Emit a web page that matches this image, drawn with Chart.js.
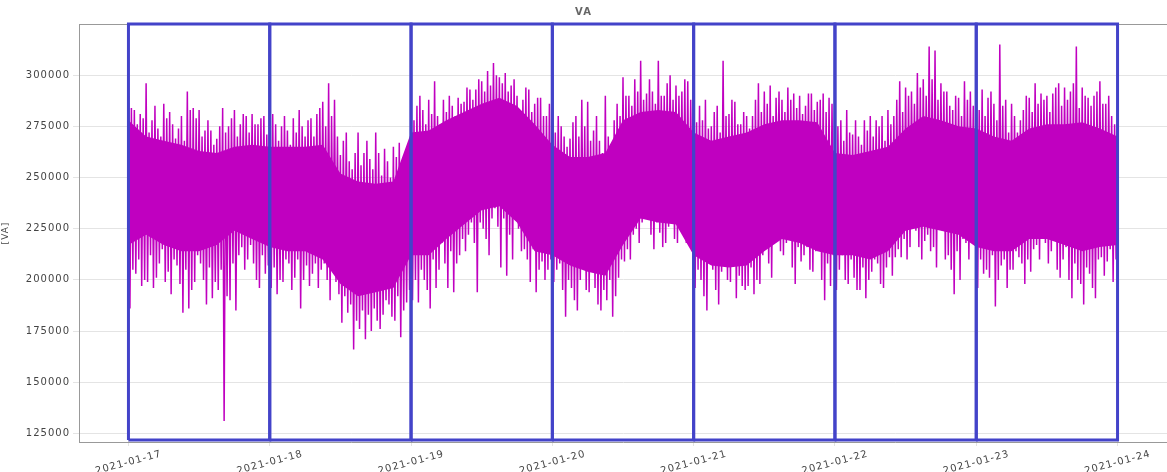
<!DOCTYPE html>
<html>
<head>
<meta charset="utf-8">
<script src="https://cdn.jsdelivr.net/npm/chart.js@4.4.1/dist/chart.umd.min.js"></script>
<style>
    html, body { margin: 0; padding: 0; background: #fff; overflow: hidden; }
</style>
</head>
<body>
<canvas id="myChart" width="1167" height="472"></canvas>
<script>
// day boundaries (x axis ticks)
var days = ['2021-01-17', '2021-01-18', '2021-01-19', '2021-01-20', '2021-01-21', '2021-01-22', '2021-01-23', '2021-01-24'];
var yTicks = [125000, 150000, 175000, 200000, 225000, 250000, 275000, 300000];

// hourly main upper / lower peaks of the VA trace, one pair of arrays per day
var hi17 = [290000, 283000, 281000, 296000, 278000, 274000, 286000, 282000, 269000, 280000, 292000, 284000, 283000, 273000, 273000, 269000, 284000, 275000, 283000, 276000, 280000, 281000, 276000, 280000];
var lo17 = [186000, 203000, 197000, 199000, 196000, 208000, 199000, 193000, 207000, 184000, 186000, 199000, 208000, 188000, 191000, 195000, 131000, 190000, 185000, 216000, 210000, 208000, 196000, 203000];
var hi18 = [273000, 276000, 275000, 273000, 279000, 283000, 270000, 279000, 281000, 287000, 296000, 288000, 261000, 272000, 254000, 272000, 262000, 259000, 272000, 251000, 258000, 265000, 267000, 258000];
var lo18 = [196000, 193000, 199000, 208000, 201000, 186000, 207000, 203000, 196000, 208000, 190000, 199000, 179000, 184000, 166000, 176000, 171000, 175000, 180000, 183000, 188000, 180000, 172000, 189000];
var hi19 = [285000, 285000, 283000, 288000, 297000, 276000, 282000, 285000, 289000, 287000, 293000, 293000, 297000, 302000, 306000, 299000, 301000, 295000, 290000, 288000, 293000, 286000, 289000, 280000];
var lo19 = [190000, 189000, 200000, 186000, 196000, 218000, 196000, 194000, 212000, 214000, 228000, 194000, 225000, 212000, 235000, 206000, 202000, 210000, 225000, 215000, 199000, 194000, 209000, 205000];
var hi20 = [281000, 280000, 270000, 269000, 280000, 288000, 287000, 273000, 268000, 290000, 266000, 286000, 299000, 290000, 298000, 307000, 291000, 292000, 307000, 290000, 300000, 295000, 292000, 297000];
var lo20 = [199000, 208000, 182000, 196000, 185000, 209000, 194000, 196000, 185000, 190000, 182000, 201000, 209000, 210000, 225000, 228000, 231000, 215000, 223000, 218000, 228000, 218000, 225000, 218000];
var hi21 = [283000, 285000, 288000, 275000, 285000, 307000, 281000, 287000, 276000, 280000, 280000, 296000, 292000, 295000, 289000, 288000, 294000, 291000, 290000, 285000, 291000, 287000, 291000, 289000];
var lo21 = [196000, 200000, 185000, 205000, 188000, 214000, 199000, 191000, 197000, 197000, 193000, 198000, 218000, 201000, 240000, 212000, 222000, 198000, 209000, 216000, 204000, 220000, 190000, 197000];
var hi22 = [268000, 278000, 283000, 271000, 270000, 278000, 280000, 278000, 280000, 283000, 280000, 297000, 294000, 292000, 301000, 298000, 314000, 312000, 296000, 292000, 283000, 289000, 297000, 292000];
var lo22 = [195000, 212000, 198000, 201000, 195000, 191000, 204000, 208000, 196000, 211000, 211000, 211000, 210000, 231000, 216000, 219000, 214000, 206000, 224000, 212000, 193000, 200000, 218000, 226000];
var hi23 = [294000, 293000, 289000, 286000, 315000, 288000, 286000, 272000, 283000, 289000, 296000, 291000, 290000, 291000, 296000, 294000, 292000, 314000, 294000, 289000, 290000, 297000, 286000, 280000];
var lo23 = [196000, 203000, 201000, 187000, 207000, 196000, 205000, 211000, 198000, 204000, 217000, 224000, 208000, 221000, 201000, 216000, 191000, 200000, 188000, 203000, 191000, 211000, 209000, 199000];

// hourly secondary upper / lower peaks (the shorter spikes between the main ones)
var hi2_17 = [284000, 276000, 279000, 272000, 285000, 270000, 279000, 276000, 274000, 268000, 283000, 279000, 270000, 278000, 266000, 275000, 272000, 279000, 270000, 281000, 272000, 276000, 279000, 271000];
var lo2_17 = [205000, 210000, 200000, 212000, 201000, 215000, 204000, 210000, 198000, 205000, 195000, 212000, 200000, 206000, 199000, 205000, 192000, 208000, 212000, 205000, 217000, 200000, 212000, 207000];
var hi2_18 = [281000, 268000, 280000, 266000, 272000, 275000, 278000, 270000, 284000, 275000, 280000, 270000, 268000, 258000, 262000, 256000, 268000, 254000, 262000, 264000, 250000, 260000, 256000, 262000];
var lo2_18 = [206000, 200000, 210000, 195000, 210000, 200000, 197000, 208000, 205000, 200000, 206000, 193000, 192000, 188000, 180000, 185000, 183000, 186000, 176000, 190000, 182000, 192000, 185000, 195000];
var hi2_19 = [278000, 290000, 276000, 281000, 280000, 288000, 290000, 280000, 286000, 294000, 288000, 298000, 292000, 295000, 300000, 296000, 292000, 298000, 283000, 294000, 282000, 289000, 280000, 286000];
var lo2_19 = [200000, 205000, 195000, 210000, 205000, 208000, 214000, 208000, 220000, 222000, 218000, 228000, 220000, 230000, 226000, 230000, 222000, 230000, 214000, 210000, 215000, 205000, 200000, 210000];
var hi2_20 = [272000, 275000, 265000, 277000, 270000, 275000, 268000, 280000, 262000, 270000, 278000, 280000, 290000, 285000, 292000, 288000, 298000, 286000, 290000, 296000, 288000, 290000, 298000, 288000];
var lo2_20 = [205000, 195000, 200000, 190000, 200000, 195000, 205000, 188000, 195000, 200000, 192000, 210000, 215000, 222000, 218000, 232000, 222000, 228000, 216000, 226000, 220000, 230000, 218000, 222000];
var hi2_21 = [277000, 278000, 274000, 282000, 272000, 280000, 288000, 276000, 282000, 274000, 288000, 282000, 286000, 280000, 292000, 282000, 288000, 284000, 281000, 291000, 283000, 288000, 282000, 286000];
var lo2_21 = [205000, 192000, 210000, 195000, 204000, 200000, 208000, 202000, 195000, 206000, 200000, 212000, 208000, 222000, 214000, 218000, 206000, 216000, 212000, 205000, 214000, 200000, 208000, 212000];
var hi2_22 = [275000, 268000, 272000, 278000, 266000, 273000, 270000, 275000, 268000, 276000, 288000, 282000, 290000, 286000, 294000, 290000, 298000, 288000, 292000, 285000, 290000, 280000, 288000, 285000];
var lo2_22 = [205000, 200000, 210000, 195000, 206000, 200000, 210000, 198000, 206000, 202000, 215000, 220000, 216000, 224000, 210000, 222000, 216000, 226000, 210000, 205000, 214000, 220000, 210000, 218000];
var hi2_23 = [283000, 280000, 292000, 278000, 285000, 272000, 280000, 278000, 290000, 282000, 286000, 288000, 282000, 294000, 285000, 288000, 296000, 284000, 290000, 285000, 292000, 286000, 290000, 276000];
var lo2_23 = [210000, 205000, 212000, 200000, 210000, 205000, 214000, 208000, 210000, 215000, 210000, 218000, 214000, 205000, 210000, 200000, 208000, 198000, 206000, 196000, 210000, 202000, 215000, 210000];

// dense core of the trace (where the line fills solid), every 3 hours 17th 00:00 .. 24th 00:00
var coreTop = [
    278000, 270000, 268000, 266000, 263000, 262000, 265000, 266000,
    265000, 265000, 265000, 266000, 252000, 248000, 247000, 248000,
    272000, 273000, 278000, 282000, 286000, 289000, 285000, 276000,
    266000, 260000, 260000, 262000, 278000, 282000, 283000, 282000,
    272000, 268000, 270000, 272000, 276000, 278000, 278000, 277000,
    262000, 261000, 263000, 265000, 274000, 280000, 278000, 275000,
    274000, 270000, 268000, 274000, 276000, 276000, 277000, 274000,
    270000
];
var coreBot = [
    217000, 222000, 217000, 214000, 214000, 217000, 224000, 220000,
    216000, 214000, 214000, 210000, 198000, 192000, 194000, 196000,
    212000, 212000, 220000, 227000, 234000, 236000, 228000, 214000,
    212000, 207000, 204000, 202000, 217000, 230000, 228000, 227000,
    212000, 207000, 206000, 207000, 214000, 220000, 218000, 214000,
    212000, 212000, 210000, 214000, 224000, 226000, 224000, 222000,
    216000, 214000, 214000, 220000, 220000, 217000, 214000, 216000,
    217000
];

var HI = [hi17, hi18, hi19, hi20, hi21, hi22, hi23];
var LO = [lo17, lo18, lo19, lo20, lo21, lo22, lo23];
var HI2 = [hi2_17, hi2_18, hi2_19, hi2_20, hi2_21, hi2_22, hi2_23];
var LO2 = [lo2_17, lo2_18, lo2_19, lo2_20, lo2_21, lo2_22, lo2_23];

var Y_MIN = 120800, Y_MAX = 325000;
var X_MIN = -8.4, X_MAX = 176.4;   // hours from 2021-01-17 00:00
var MAGENTA = '#c000c0';

// x in hours: main peak, main dip, secondary peak, secondary dip every quarter hour
var trace = [];
for (var d = 0; d < HI.length; d++) {
    for (var h = 0; h < 24; h++) {
        var t = d * 24 + h;
        trace.push({ x: t, y: HI[d][h] });
        trace.push({ x: t + 0.25, y: LO[d][h] });
        trace.push({ x: t + 0.5, y: HI2[d][h] });
        trace.push({ x: t + 0.75, y: LO2[d][h] });
    }
}
var topPts = coreTop.map(function (v, k) { return { x: k * 3, y: v }; });
var botPts = coreBot.map(function (v, k) { return { x: k * 3, y: v }; });

var datasets = [{
    data: trace,
    borderColor: MAGENTA,
    borderWidth: 1.5,
    pointRadius: 0,
    tension: 0,
    order: 2
}, {
    data: topPts,
    borderWidth: 0,
    backgroundColor: MAGENTA,
    fill: '+1',
    pointRadius: 0,
    order: 3
}, {
    data: botPts,
    borderWidth: 0,
    pointRadius: 0,
    fill: false,
    order: 3
}];

// one box per day
for (var i = 0; i < days.length - 1; i++) {
    var x0 = i * 24, x1 = (i + 1) * 24;
    var yb = Y_MIN + 1000;
    datasets.push({
        data: [{x: x0, y: yb}, {x: x0, y: Y_MAX}, {x: x1, y: Y_MAX}, {x: x1, y: yb}, {x: x0, y: yb}],
        borderColor: '#4343c9',
        borderWidth: 3,
        pointRadius: 0,
        tension: 0,
        clip: 4,
        order: 1
    });
}

var spacing = {
    id: 'spacing',
    beforeLayout: function (chart) { chart.ctx.letterSpacing = '1px'; },
    beforeDraw: function (chart) { chart.ctx.letterSpacing = '1px'; }
};

var topSpine = {
    id: 'topSpine',
    beforeDatasetsDraw: function (chart) {
        var a = chart.chartArea, ctx = chart.ctx;
        ctx.save();
        ctx.strokeStyle = '#999';
        ctx.lineWidth = 1;
        ctx.beginPath();
        ctx.moveTo(a.left, a.top + 0.5);
        ctx.lineTo(a.right, a.top + 0.5);
        ctx.stroke();
        ctx.restore();
    }
};

Chart.defaults.font.family = 'DejaVu Sans';
Chart.defaults.color = '#444';

var ctx = document.getElementById('myChart').getContext('2d');
var myChart = new Chart(ctx, {
    type: 'line',
    data: { datasets: datasets },
    plugins: [spacing, topSpine],
    options: {
        responsive: false,
        animation: false,
        devicePixelRatio: 1,
        layout: { padding: 0 },
        plugins: {
            legend: { display: false },
            tooltip: { enabled: false },
            title: {
                display: true,
                text: 'VA',
                color: '#666',
                font: { size: 10, weight: 'bold' },
                padding: { top: 6, bottom: 6 }
            }
        },
        scales: {
            x: {
                type: 'linear',
                min: X_MIN,
                max: X_MAX,
                afterBuildTicks: function (s) {
                    s.ticks = days.map(function (d, i) { return { value: i * 24 }; });
                },
                afterFit: function (s) {
                    s.height = 30;
                    s.paddingLeft = 0;
                    s.paddingRight = 0;
                },
                ticks: {
                    callback: function (v) { return days[Math.round(v / 24)]; },
                    minRotation: 15,
                    maxRotation: 15,
                    labelOffset: 33,
                    padding: 2,
                    font: { size: 10 }
                },
                grid: { color: '#e4e4e4', tickLength: 4 },
                border: { color: '#999' }
            },
            y: {
                min: Y_MIN,
                max: Y_MAX,
                afterBuildTicks: function (s) {
                    s.ticks = yTicks.map(function (v) { return { value: v }; });
                },
                afterFit: function (s) {
                    s.width = 79;
                    s.paddingTop = 0;
                    s.paddingBottom = 0;
                },
                ticks: {
                    callback: function (v) { return String(v); },
                    padding: 3,
                    font: { size: 10 }
                },
                title: {
                    display: true,
                    text: '[VA]',
                    font: { size: 9 },
                    padding: { top: 0, bottom: 4 }
                },
                grid: { color: '#e4e4e4', tickLength: 6 },
                border: { color: '#999' }
            }
        }
    }
});
</script>
</body>
</html>
